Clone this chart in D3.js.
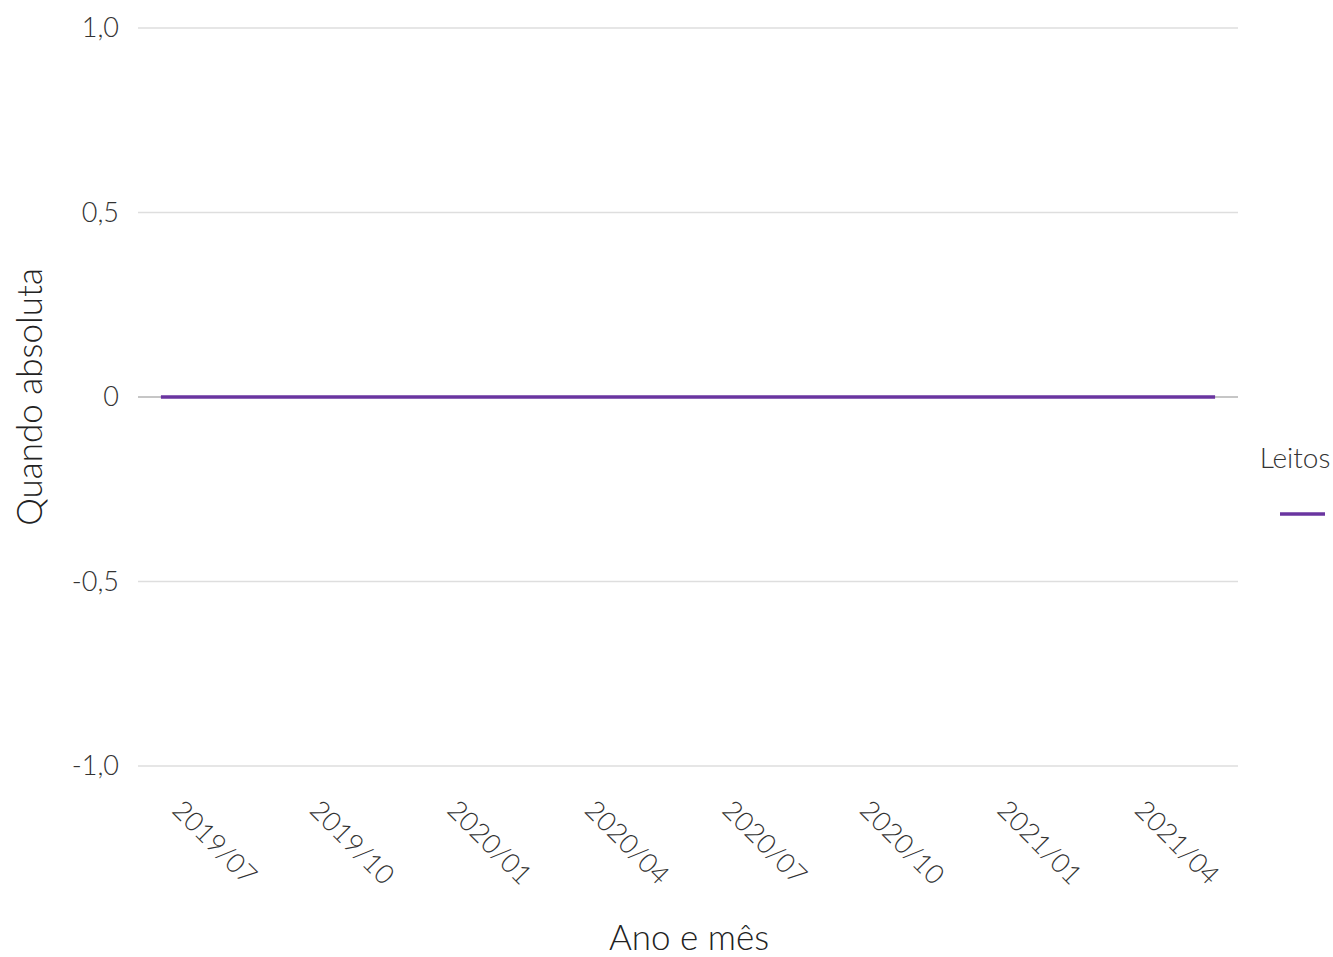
<!DOCTYPE html>
<html>
<head>
<meta charset="utf-8">
<script src="https://cdn.jsdelivr.net/npm/d3@7"></script>
<style>
  html, body { margin: 0; padding: 0; background: #fff; }
  svg { display: block; font-family: Lato, "Open Sans", sans-serif; font-weight: 300; }
</style>
</head>
<body>
<svg id="chart" width="1333" height="957"></svg>
<script>
const months = ["2019/07","2019/08","2019/09","2019/10","2019/11","2019/12",
  "2020/01","2020/02","2020/03","2020/04","2020/05","2020/06",
  "2020/07","2020/08","2020/09","2020/10","2020/11","2020/12",
  "2021/01","2021/02","2021/03","2021/04","2021/05","2021/06"];
const leitos = [0,0,0,0,0,0,0,0,0,0,0,0,0,0,0,0,0,0,0,0,0,0,0,0];
const xTickLabels = ["2019/07","2019/10","2020/01","2020/04","2020/07","2020/10","2021/01","2021/04"];
const yTicks = [-1.0, -0.5, 0, 0.5, 1.0];
const seriesName = "Leitos";

const svg = d3.select("#chart");
const pLeft = 138, pRight = 1238, pTop = 28, pBottom = 766;

const x = d3.scalePoint().domain(months).range([pLeft, pRight]).padding(0.5);
const y = d3.scaleLinear().domain([-1, 1]).range([pBottom, pTop]);

const fmt = v => v === 0 ? "0" : d3.format(".1f")(v).replace(".", ",").replace("−", "-");

// gridlines
svg.append("g").selectAll("line").data(yTicks).join("line")
  .attr("x1", pLeft).attr("x2", pRight)
  .attr("y1", d => y(d)).attr("y2", d => y(d))
  .attr("stroke", d => d === 0 ? "#b3b3b3" : "#dedede")
  .attr("stroke-width", 1.6);

// y axis labels
const yAxis = d3.axisLeft(y).tickValues(yTicks).tickFormat(fmt).tickSize(0).tickPadding(0);
const gy = svg.append("g").attr("transform", `translate(${pLeft - 19},0)`).call(yAxis);
gy.select(".domain").remove();
gy.selectAll("text").attr("font-size", 27).attr("fill", "#333").attr("font-family", "Lato, sans-serif").attr("font-weight", 300);

// x axis labels
const xAxis = d3.axisBottom(x).tickValues(xTickLabels).tickSize(0).tickPadding(0);
const gx = svg.append("g").attr("transform", `translate(0,${pBottom + 30})`).call(xAxis);
gx.select(".domain").remove();
gx.selectAll("text")
  .attr("font-size", 27).attr("fill", "#333").attr("font-family", "Lato, sans-serif").attr("font-weight", 300)
  .attr("text-anchor", "start").attr("dy", "0.35em").attr("y", 0).attr("x", 0)
  .attr("transform", "translate(16,9) rotate(45)");

// line
const line = d3.line().x((d, i) => x(months[i])).y(d => y(d));
svg.append("path").datum(leitos)
  .attr("d", line).attr("fill", "none")
  .attr("stroke", "#6a35a0").attr("stroke-width", 3.5);

// axis titles
svg.append("text").attr("x", 689).attr("y", 950).attr("text-anchor", "middle")
  .attr("font-size", 35).attr("fill", "#222").text("Ano e mês");
svg.append("text").attr("transform", `translate(42,${y(0)}) rotate(-90)`).attr("text-anchor", "middle")
  .attr("font-size", 35).attr("fill", "#222").text("Quando absoluta");

// legend
svg.append("text").attr("x", 1295).attr("y", 468).attr("text-anchor", "middle")
  .attr("font-size", 28).attr("fill", "#333").text(seriesName);
svg.append("line").attr("x1", 1280).attr("x2", 1325).attr("y1", 514).attr("y2", 514)
  .attr("stroke", "#6a35a0").attr("stroke-width", 3.5);
</script>
</body>
</html>
